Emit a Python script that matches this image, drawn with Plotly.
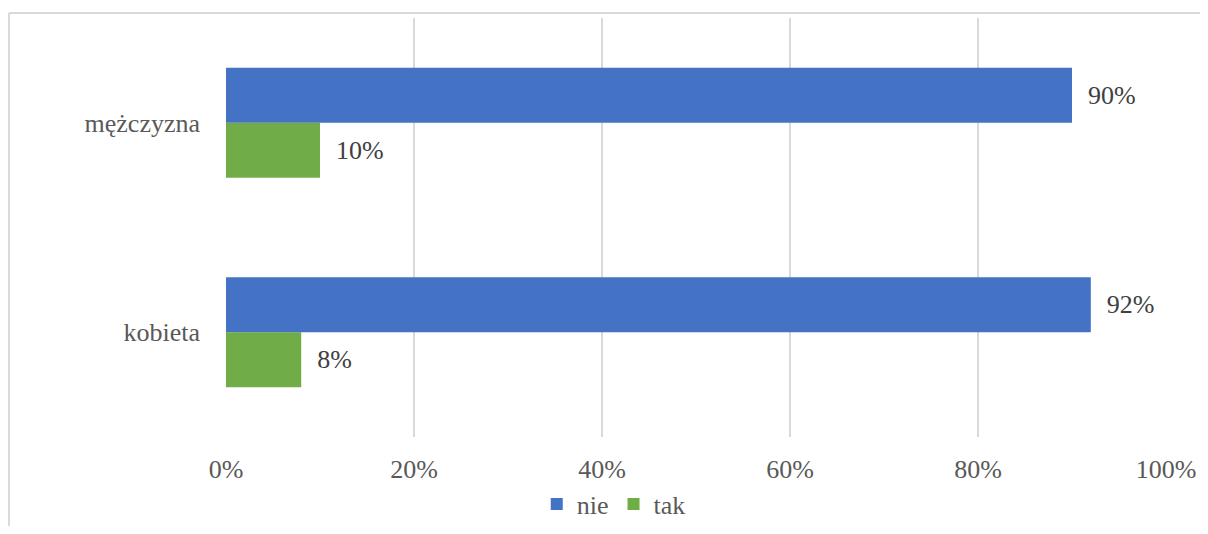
import plotly.graph_objects as go

# dane
kategorie = ["kobieta", "mężczyzna"]
nie = [0.92, 0.90]
tak = [0.08, 0.10]
tick_vals = [0, 0.2, 0.4, 0.6, 0.8, 1.0]
tick_text = ["0%", "20%", "40%", "60%", "80%", "100%"]

SERIF = "Liberation Serif, Times New Roman, DejaVu Serif, serif"
PAD = "\u00a0\u00a0"  # odstęp etykiety od końca słupka
FS = 26

fig = go.Figure()

# tak dodane pierwsze -> rysowane pod "nie" w grupie
fig.add_trace(go.Bar(
    y=kategorie, x=tak, name="tak", orientation="h",
    marker=dict(color="#70AD47", line=dict(width=0)),
    text=[PAD + f"{v:.0%}" for v in tak], textposition="outside",
    textfont=dict(family=SERIF, size=FS, color="#404040"),
    cliponaxis=False, legendrank=2,
))
fig.add_trace(go.Bar(
    y=kategorie, x=nie, name="nie", orientation="h",
    marker=dict(color="#4472C4", line=dict(width=0)),
    text=[PAD + f"{v:.0%}" for v in nie], textposition="outside",
    textfont=dict(family=SERIF, size=FS, color="#404040"),
    cliponaxis=False, legendrank=1,
))

# strona html ma 8px marginesu body -> figura 1200x518, obszar wykresu 218..1158 / 10..429
fig.update_layout(
    width=1200, height=518,
    margin=dict(l=218, r=42, t=10, b=89),
    paper_bgcolor="white", plot_bgcolor="white",
    barmode="group", bargap=0.475, bargroupgap=0,
    font=dict(family=SERIF, size=FS, color="#595959"),
    showlegend=True,
    # legenda w układzie "container", żeby nie ściskała obszaru wykresu
    legend=dict(orientation="h", x=0.4125, xanchor="center",
                yref="container", y=0.0425, yanchor="middle",
                font=dict(family=SERIF, size=FS, color="#595959"), itemwidth=30),
    xaxis=dict(range=[0, 1.0], tickvals=tick_vals, ticktext=tick_text,
               showgrid=True, gridcolor="#D9D9D9", gridwidth=2,
               zeroline=False, showline=False, ticklabelstandoff=14,
               automargin=False, fixedrange=True,
               tickfont=dict(family=SERIF, size=FS, color="#595959")),
    yaxis=dict(showgrid=False, zeroline=False, showline=False,
               ticklabelstandoff=25, ticks="", automargin=False, fixedrange=True,
               tickfont=dict(family=SERIF, size=FS, color="#595959")),
)

# ramka obszaru wykresu (przycięta na dole i po prawej)
fig.add_shape(type="line", xref="paper", yref="paper",
              x0=-0.2309, x1=1.1, y0=1.0119, y1=1.0119,
              line=dict(color="#D9D9D9", width=2))
fig.add_shape(type="line", xref="paper", yref="paper",
              x0=-0.2309, x1=-0.2309, y0=1.0119, y1=-0.3,
              line=dict(color="#D9D9D9", width=2))

fig.write_html("out.html")
